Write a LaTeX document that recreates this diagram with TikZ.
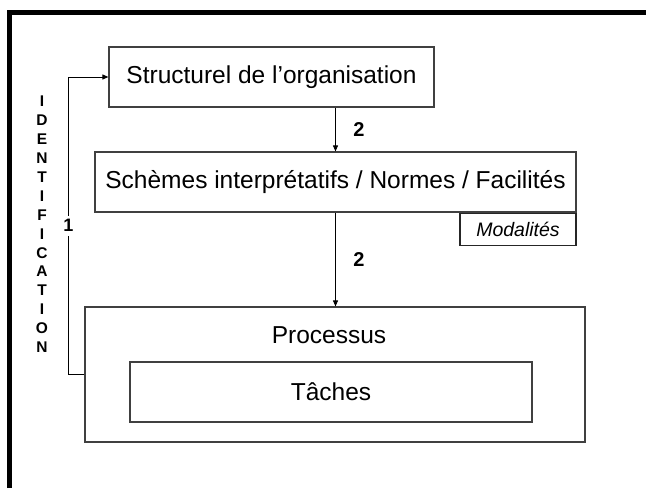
\documentclass[tikz,border=0pt]{standalone}
\usepackage{fontspec}
\setmainfont{Liberation Sans}
\usetikzlibrary{arrows.meta,positioning}
\tikzset{
  box/.style  ={rectangle,draw=black!75,line width=1.2pt,fill=white,inner sep=0pt,
                align=center,font=\fontsize{24.5}{29}\selectfont},
  tag/.style  ={rectangle,draw=black!85,line width=1.2pt,inner sep=0pt,
                font=\fontsize{19.5}{23}\selectfont\itshape},
  title/.style={inner sep=0pt,font=\fontsize{24.5}{29}\selectfont},
  num/.style  ={font=\fontsize{20}{24}\selectfont\bfseries},
  arr/.style  ={-{Triangle[length=6pt,width=5pt]},line width=0.9pt}
}

\begin{document}
\begin{tikzpicture}[x=1pt,y=-1pt]
  \useasboundingbox (0,0) rectangle (646,488);
  % frame
  \draw [line width=5pt] (9.5,488) -- (9.5,12.5) -- (646,12.5);

  \node (struct) [box, minimum width=325pt, minimum height=60pt] at (271.5,77)  {Structurel de l’organisation};
  \node (schemes)[box, minimum width=481pt, minimum height=60pt] at (335.5,182) {Schèmes interprétatifs / Normes / Facilités};
  \node (modal)  [tag, minimum width=116pt, minimum height=32pt, below left=0pt and 0pt of schemes.south east] {Modalités};
  \node (proc)   [box, minimum width=500pt, minimum height=135pt] at (335,374.5) {};
  \node (ptitle) [title] at (329,335) {Processus};
  \node (taches) [box, minimum width=402pt, minimum height=60pt] at (331,392) {Tâches};
  \node (ident)  [align=center, inner sep=0pt, font=\fontsize{15.5}{18.9}\selectfont\bfseries] at (42,224.4)
                 {I\\D\\E\\N\\T\\I\\F\\I\\C\\A\\T\\I\\O\\N};

  \draw [arr] (struct.south -| schemes.north) -- node[num, midway, right=14pt] {2} (schemes.north);
  \draw [arr] (schemes.south) -- node[num, midway, right=14pt] {2} (schemes.south |- proc.north);
  \draw [arr] (proc.west) -- ++(-16,0) |- node[num, pos=0.25, fill=white, inner sep=4pt, font=\fontsize{18}{22}\selectfont\bfseries] {1} (struct.west);
\end{tikzpicture}
\end{document}
